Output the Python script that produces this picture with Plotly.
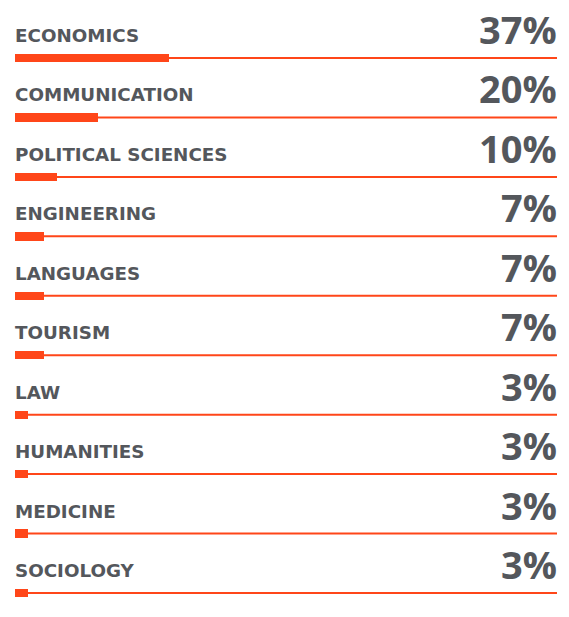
import plotly.graph_objects as go

categories = ["ECONOMICS", "COMMUNICATION", "POLITICAL SCIENCES", "ENGINEERING",
              "LANGUAGES", "TOURISM", "LAW", "HUMANITIES", "MEDICINE", "SOCIOLOGY"]
values = [37, 20, 10, 7, 7, 7, 3, 3, 3, 3]
value_labels = ["37%", "20%", "10%", "7%", "7%", "7%", "3%", "3%", "3%", "3%"]

ORANGE = "#FF4619"
GRAY = "#54575C"

rows = list(range(len(categories)))

fig = go.Figure()
# thick value bar
fig.add_trace(go.Bar(
    x=values, y=rows, orientation="h", width=0.14,
    marker=dict(color=ORANGE, line=dict(width=0)), showlegend=False,
    hovertext=categories, hoverinfo="text+x",
))

for i, (cat, lab) in enumerate(zip(categories, value_labels)):
    # thin full-width track line
    fig.add_shape(type="line", xref="paper", yref="y", x0=0, x1=1, y0=i, y1=i,
                  line=dict(color=ORANGE, width=2), layer="below")
    fig.add_annotation(x=0, y=i, xref="x", yref="y", text=cat, showarrow=False,
                       xanchor="left", yanchor="bottom", yshift=10, xshift=-2,
                       font=dict(family="DejaVu Sans", size=18.3, color=GRAY, weight=700))
    fig.add_annotation(x=1, y=i, xref="paper", yref="y", text=lab, showarrow=False,
                       xanchor="right", yanchor="bottom", yshift=1, xshift=2,
                       font=dict(family="Open Sans", size=38, color=GRAY, weight=700))

fig.update_layout(
    width=569, height=617,
    margin=dict(l=15, r=12, t=28, b=0),
    paper_bgcolor="white", plot_bgcolor="white",
    barmode="overlay", bargap=0,
    xaxis=dict(range=[0, 130], visible=False, fixedrange=True),
    yaxis=dict(range=[9.404, -0.505], visible=False, fixedrange=True),
)

fig.write_html("out.html", config={"displayModeBar": False},
               post_script="document.body.style.margin='0';document.body.style.overflow='hidden';")
